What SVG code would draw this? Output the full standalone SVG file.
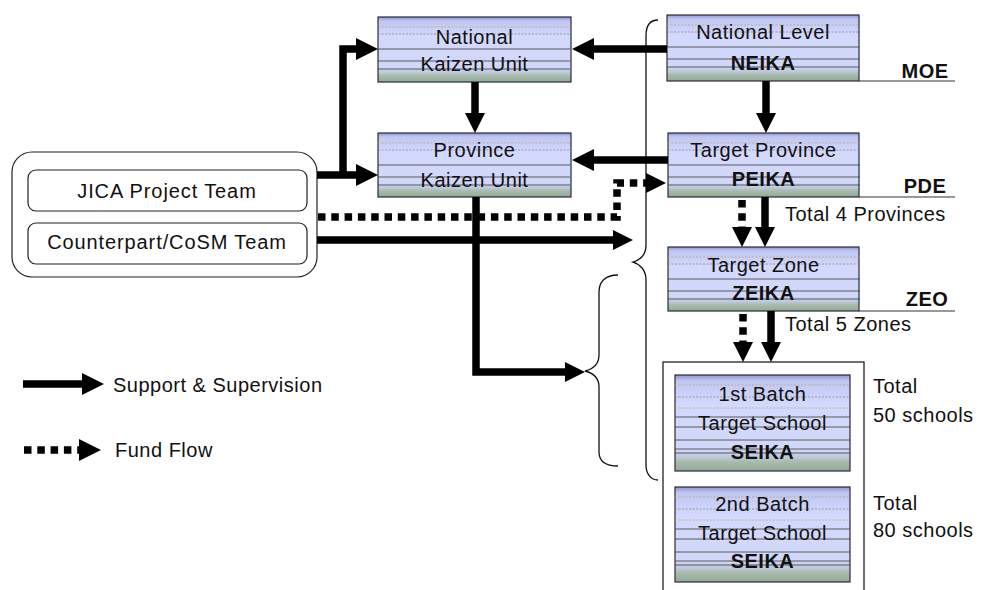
<svg xmlns="http://www.w3.org/2000/svg" xmlns:xlink="http://www.w3.org/1999/xlink" width="981" height="590" viewBox="0 0 981 590">
  <style>
    text { font-family: "Liberation Sans", Arial, sans-serif; font-size: 20px; letter-spacing: 0.5px; fill: #111; }
    .c { text-anchor: middle; }
    .b { font-weight: bold; }
    .wide { letter-spacing: 0.9px; }
    .box { fill: url(#boxFill); stroke: #2a2a3a; stroke-width: 1.2; }
    .team { fill: #fff; stroke: #222; stroke-width: 1.2; }
    .rule { stroke: #3a3a3a; stroke-width: 0.8; }
    .ruleDot { stroke: #b8a890; stroke-width: 0.8; stroke-dasharray: 2 1.5; }
    .ruleGray { stroke: #8a8a9a; stroke-width: 0.8; stroke-dasharray: 2 1.5; }
    .thick { fill: none; stroke: #000; stroke-width: 7.5; stroke-linejoin: miter; }
    .dots { fill: none; stroke: #000; stroke-width: 7.5; stroke-dasharray: 7.5 5.8; }
    .brace { fill: none; stroke: #111; stroke-width: 1.3; }
    .tag { stroke: #333; stroke-width: 1.2; }
  </style>
  <defs>
    <linearGradient id="boxFill" x1="0" y1="0" x2="0" y2="1">
      <stop offset="0" stop-color="#8f96d0"/>
      <stop offset="0.06" stop-color="#c0c6f0"/>
      <stop offset="0.3" stop-color="#d3d9fc"/>
      <stop offset="0.78" stop-color="#d0d7f8"/>
      <stop offset="0.86" stop-color="#bcc8d8"/>
      <stop offset="0.9" stop-color="#a9bcae"/>
      <stop offset="1" stop-color="#93aa98"/>
    </linearGradient>
    <marker id="ah" markerUnits="userSpaceOnUse" markerWidth="24" markerHeight="24" refX="1" refY="11" orient="auto">
      <path d="M0,0 L22,11 L0,22 z" fill="#000"/>
    </marker>
    <marker id="ahs" markerUnits="userSpaceOnUse" markerWidth="22" markerHeight="22" refX="1" refY="10" orient="auto">
      <path d="M0,0 L20,10 L0,20 z" fill="#000"/>
    </marker>
    <!-- ruling inside the 64px tall level boxes -->
    <g id="rules64">
      <line class="ruleDot" x1="0" y1="10" x2="192" y2="10"/>
      <line class="ruleGray" x1="0" y1="17" x2="192" y2="17"/>
      <line class="rule" x1="0" y1="32" x2="192" y2="32"/>
      <line class="rule" x1="0" y1="44" x2="192" y2="44"/>
      <line class="rule" x1="0" y1="52" x2="192" y2="52"/>
    </g>
    <!-- ruling inside the taller school boxes -->
    <g id="rules96">
      <line class="ruleDot" x1="0" y1="10" x2="175" y2="10"/>
      <line class="ruleGray" x1="0" y1="22" x2="175" y2="22"/>
      <line class="ruleDot" x1="0" y1="33" x2="175" y2="33"/>
      <line class="rule" x1="0" y1="42" x2="175" y2="42"/>
      <line class="rule" x1="0" y1="52" x2="175" y2="52"/>
      <line class="rule" x1="0" y1="65" x2="175" y2="65"/>
      <line class="rule" x1="0" y1="74" x2="175" y2="74"/>
      <line class="rule" x1="0" y1="78" x2="175" y2="78"/>
    </g>
  </defs>

  <rect width="981" height="590" fill="#fff"/>

  <!-- braces -->
  <g id="braces">
    <path class="brace" d="M658,20 C650,20 646,26 646,36 L646,245 C646,255 640,260 633,262 C640,264 646,270 646,280 L646,465 C646,474 651,480 658,480"/>
    <path class="brace" d="M618,275 C605,275 599,282 599,292 L599,355 C599,364 593,369 585,371 C593,373 599,378 599,387 L599,452 C599,461 605,466 618,466"/>
  </g>

  <!-- school frame -->
  <rect x="663" y="362" width="201" height="240" fill="none" stroke="#222" stroke-width="1.3"/>

  <!-- team block -->
  <g id="teams">
    <rect x="12" y="152" width="305" height="125" rx="20" class="team"/>
    <rect x="28" y="170" width="279" height="41" rx="8" class="team"/>
    <text x="167" y="198" class="c wide">JICA Project Team</text>
    <rect x="28" y="223" width="279" height="41" rx="8" class="team"/>
    <text x="167" y="249" class="c wide">Counterpart/CoSM Team</text>
  </g>

  <g id="nku">
    <rect x="378" y="17" width="193" height="65" class="box"/>
    <use xlink:href="#rules64" x="378" y="17"/>
    <text x="474.5" y="44" class="c">National</text>
    <text x="474.5" y="71" class="c">Kaizen Unit</text>
  </g>

  <g id="pku">
    <rect x="378" y="133" width="193" height="64" class="box"/>
    <use xlink:href="#rules64" x="378" y="133"/>
    <text x="474.5" y="157" class="c">Province</text>
    <text x="474.5" y="187" class="c">Kaizen Unit</text>
  </g>

  <g id="neika">
    <rect x="667" y="15" width="192" height="66" class="box"/>
    <use xlink:href="#rules64" x="667" y="15"/>
    <text x="763" y="39" class="c">National Level</text>
    <text x="763" y="70" class="c b">NEIKA</text>
    <line class="tag" x1="859" y1="81" x2="955" y2="81"/>
    <text x="925" y="78" class="c b">MOE</text>
  </g>

  <g id="peika">
    <rect x="668" y="133" width="191" height="64" class="box"/>
    <use xlink:href="#rules64" x="668" y="133"/>
    <text x="763.5" y="157" class="c">Target Province</text>
    <text x="763.5" y="186" class="c b">PEIKA</text>
    <line class="tag" x1="859" y1="197" x2="955" y2="197"/>
    <text x="925" y="193" class="c b">PDE</text>
    <text x="785" y="221">Total 4 Provinces</text>
  </g>

  <g id="zeika">
    <rect x="668" y="247" width="191" height="64" class="box"/>
    <use xlink:href="#rules64" x="668" y="247"/>
    <text x="763.5" y="272" class="c">Target Zone</text>
    <text x="763.5" y="300" class="c b">ZEIKA</text>
    <line class="tag" x1="859" y1="311" x2="955" y2="311"/>
    <text x="927" y="306" class="c b">ZEO</text>
    <text x="785" y="331">Total 5 Zones</text>
  </g>

  <g id="batch1">
    <rect x="675" y="375" width="175" height="96" class="box"/>
    <use xlink:href="#rules96" x="675" y="375"/>
    <text x="762.5" y="401" class="c">1st Batch</text>
    <text x="762.5" y="430" class="c">Target School</text>
    <text x="762.5" y="459" class="c b">SEIKA</text>
    <text x="873" y="393">Total</text>
    <text x="873" y="422">50 schools</text>
  </g>

  <g id="batch2">
    <rect x="675" y="487" width="175" height="95" class="box"/>
    <use xlink:href="#rules96" x="675" y="487"/>
    <text x="762.5" y="511" class="c">2nd Batch</text>
    <text x="762.5" y="540" class="c">Target School</text>
    <text x="762.5" y="568" class="c b">SEIKA</text>
    <text x="873" y="510">Total</text>
    <text x="873" y="537">80 schools</text>
  </g>

  <!-- connectors -->
  <g id="connectors">
    <path class="thick" d="M317,175 H357" marker-end="url(#ah)"/>
    <path class="thick" d="M343,178 V49 H357" marker-end="url(#ah)"/>
    <path class="thick" d="M667,49 H593" marker-end="url(#ah)"/>
    <path class="thick" d="M475,82 V114" marker-end="url(#ahs)"/>
    <path class="thick" d="M766,81 V114" marker-end="url(#ahs)"/>
    <path class="thick" d="M668,160 H593" marker-end="url(#ah)"/>
    <path class="dots" d="M318,217 H617 V183 H647" marker-end="url(#ahs)"/>
    <path class="thick" d="M317,240 H614" marker-end="url(#ahs)"/>
    <path class="thick" d="M476,197 V372 H566" marker-end="url(#ahs)"/>
    <path class="thick" d="M765,197 V228" marker-end="url(#ahs)"/>
    <path class="dots" d="M742,200 V228" marker-end="url(#ahs)"/>
    <path class="thick" d="M771,311 V343" marker-end="url(#ahs)"/>
    <path class="dots" d="M743,314 V343" marker-end="url(#ahs)"/>
  </g>

  <!-- legend -->
  <g id="legend">
    <path class="thick" d="M23,384 H83" marker-end="url(#ah)"/>
    <text x="113" y="392">Support &amp; Supervision</text>
    <path class="dots" d="M24,450 H80" marker-end="url(#ah)"/>
    <text x="115" y="457">Fund Flow</text>
  </g>
</svg>
